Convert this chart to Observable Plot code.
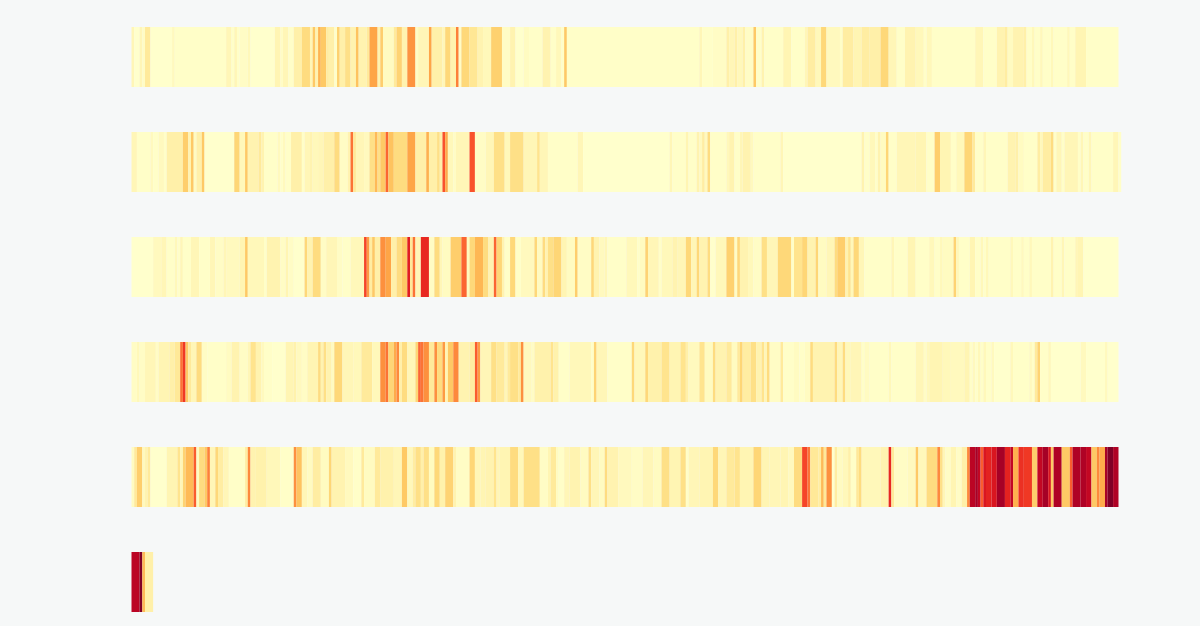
<!DOCTYPE html>
<html>
<head>
<meta charset="utf-8">
<script src="https://cdn.jsdelivr.net/npm/d3@7"></script>
<script src="https://cdn.jsdelivr.net/npm/@observablehq/plot@0.6"></script>
<style>html,body{margin:0;padding:0;background:#f6f8f8;overflow:hidden}svg{display:block}</style>
</head>
<body>
<div id="chart"></div>
<script>
// Each row: [first day of a run, value of that run].
const row1 = [[0,6],[1,0],[3,6],[4,2],[5,14],[7,0],[15,4],[16,1],[35,6],[37,1],[38,6],[39,1],[40,2],[43,5],[44,0],[53,7],[55,2],[56,6],[58,1],[60,10],[63,22],[66,6],[67,30],[68,8],[69,37],[70,30],[72,12],[73,10],[75,1],[76,27],[77,10],[79,20],[81,8],[83,32],[84,8],[87,14],[88,42],[91,8],
[92,28],[93,3],[97,14],[98,26],[100,8],[102,47],[105,2],[106,6],[110,42],[111,10],[115,6],[116,24],[118,8],[120,52],[121,2],[122,24],[125,16],[128,8],[130,5],[133,27],[137,2],[140,8],[142,0],[145,3],[147,1],[152,8],[155,1],[157,5],[159,1],[160,30],[161,1],
[210,6],[211,1],[215,2],[220,10],[221,6],[223,10],[224,5],[226,10],[227,2],[230,30],[231,1],[233,8],[234,1],[241,7],[244,1],[249,6],[250,12],[253,5],[255,24],[257,4],[262,1],[263,12],[267,7],[270,12],[273,10],
[277,24],[280,6],[283,1],[286,8],[290,5],[293,1],[294,5],[296,1],[312,6],[315,1],[320,8],[323,12],[324,3],[326,8],[330,10],[331,1],[333,5],[334,1],[336,5],[337,1],[340,5],[341,1],[346,5],[347,1],[349,7],[353,1]];
const row2 = [[0,6],[2,1],[7,4],[8,1],[10,4],[12,1],[13,10],[19,28],[21,8],[22,30],[23,3],[24,10],[26,30],[27,0],[38,25],[40,5],[42,30],[43,8],[47,14],[48,8],[49,1],[54,4],[55,1],[56,4],[57,1],[59,10],[63,1],[64,6],[66,8],[67,5],[69,6],[71,10],[75,22],[77,2],[80,8],[81,55],[82,15],[83,6],[86,4],[88,20],[90,35],[91,20],
[92,30],[94,58],[95,32],[97,22],[102,42],[105,10],[109,38],[110,10],[113,20],[114,10],[115,62],[116,40],[117,5],[119,2],[120,6],[125,62],[127,2],[131,6],[134,20],[138,5],[140,20],[145,6],[150,18],[151,6],[154,1],[165,6],[167,0],
[199,6],[200,1],[205,7],[206,1],[209,8],[210,4],[211,12],[212,4],[213,22],[214,1],[220,5],[221,8],[223,1],[225,6],[226,8],[229,4],[230,1],[240,6],[241,0],[270,8],[271,1],[273,5],[275,1],[276,8],
[277,3],[279,25],[280,1],[283,6],[290,7],[294,1],[297,28],[299,7],[303,1],[305,5],[308,25],[311,14],[312,1],[315,6],[316,1],[324,8],[327,10],[328,3],[330,1],[335,12],[336,5],[337,12],[340,22],[341,1],[342,6],[344,1],[345,6],[350,1],[351,6],[352,1],[354,6],[355,1],[363,6],[365,1]];
const row3 = [[0,0],[8,4],[11,6],[13,1],[16,5],[17,1],[18,6],[19,1],[22,6],[25,1],[29,6],[31,2],[34,6],[35,4],[40,7],[42,30],[43,5],[49,1],[50,8],[55,2],[57,7],[58,2],[60,0],[64,24],[65,8],[67,22],[70,2],[72,6],[76,2],[78,1],[81,5],[86,65],[87,45],[88,12],[89,30],[90,10],
[92,48],[94,42],[96,10],[98,22],[100,30],[102,75],[103,15],[104,55],[105,6],[107,72],[110,2],[112,22],[114,6],[115,3],[118,28],[122,58],[124,4],[125,24],[127,36],[130,22],[132,8],[134,58],[135,25],[137,8],[138,1],[140,24],[142,1],[144,4],[149,24],[150,3],[152,22],[153,8],[154,20],[156,25],[159,7],[161,3],[164,28],[165,2],[170,24],[171,8],[173,4],[175,6],[176,1],[183,5],
[187,1],[188,3],[190,26],[191,6],[195,1],[196,5],[200,8],[202,6],[205,24],[207,6],[209,24],[210,8],[213,22],[214,0],[216,5],[220,27],[223,2],[224,24],[225,8],[228,5],[230,2],[233,20],[235,6],[239,24],[244,1],[245,18],[248,25],[250,8],[253,25],[254,3],[257,6],[260,22],[261,28],[264,8],[265,18],[266,5],[267,24],[269,6],[271,1],
[281,6],[282,1],[287,7],[290,1],[295,5],[297,1],[299,5],[300,3],[304,26],[305,5],[306,1],[310,7],[312,1],[314,5],[315,1],[316,5],[317,1],[325,5],[326,1],[329,4],[330,1],[332,5],[333,1],[340,8],[341,1],[344,6],[345,1],[349,6],[350,7],[352,0]];
const row4 = [[0,2],[2,5],[3,2],[5,6],[9,2],[10,7],[14,10],[16,15],[18,55],[19,68],[20,30],[21,14],[22,6],[24,22],[26,2],[28,1],[35,3],[37,8],[40,2],[43,6],[44,18],[46,8],[48,4],[49,1],[52,0],[57,7],[60,9],[61,4],[63,2],[65,7],[69,22],[70,8],[71,20],[72,8],[74,3],[75,24],[78,6],[82,5],[85,14],[89,5],
[92,48],[94,55],[95,25],[97,40],[98,50],[99,10],[100,22],[102,6],[105,25],[106,58],[107,55],[108,48],[110,14],[112,48],[113,22],[115,45],[116,7],[117,30],[119,50],[121,8],[125,12],[127,60],[128,45],[129,6],[133,20],[135,14],[138,6],[139,14],[140,20],[143,14],[144,48],[145,4],[148,2],[149,9],[155,18],[156,9],[158,1],[162,5],[170,1],[171,26],[172,6],[176,1],
[185,24],[186,5],[190,24],[191,9],[196,18],[199,7],[203,18],[205,10],[206,4],[210,18],[212,3],[215,22],[216,8],[220,14],[222,3],[224,14],[225,25],[226,12],[229,20],[231,8],[233,18],[234,6],[235,22],[236,2],[240,14],[241,1],[245,3],[247,1],[249,3],[251,22],[252,8],[260,22],[261,6],[263,22],[264,5],[266,6],[270,1],[271,3],[273,1],
[280,5],[281,1],[290,6],[293,2],[294,5],[295,7],[300,5],[303,4],[308,7],[310,1],[311,4],[312,1],[313,5],[314,1],[315,5],[316,1],[318,4],[319,0],[325,5],[326,1],[332,4],[333,1],[334,14],[335,26],[336,1],[339,5],[340,0],[351,4],[353,0],[360,4],[361,0]];
const row5 = [[0,3],[1,14],[2,28],[4,4],[5,8],[6,14],[7,0],[13,7],[17,18],[18,6],[19,26],[20,35],[23,60],[24,3],[25,22],[27,30],[28,52],[29,6],[31,24],[32,12],[34,6],[36,1],[42,12],[43,50],[44,8],[46,9],[50,5],[55,1],[60,48],[61,32],[63,6],[65,3],[67,12],[70,3],[73,25],[74,8],[79,4],[82,1],[85,14],[86,3],[90,14],
[92,9],[97,6],[100,30],[102,5],[104,12],[105,20],[107,10],[108,20],[110,3],[112,24],[114,9],[116,26],[119,8],[120,2],[125,25],[127,6],[129,7],[131,8],[134,18],[135,6],[136,7],[140,22],[143,5],[145,20],[151,2],[154,7],[155,14],[157,3],[158,1],[160,6],[162,8],[166,3],[169,20],[170,6],[173,3],[175,22],[176,8],[180,4],
[185,2],[189,6],[193,3],[196,20],[199,7],[203,20],[205,1],[206,6],[210,7],[215,24],[217,6],[220,14],[223,18],[225,7],[230,25],[233,7],[236,6],[240,7],[243,4],[245,22],[248,65],[250,55],[251,15],[254,12],[255,35],[256,15],[257,48],[259,0],[260,12],[261,3],[263,5],[265,10],[266,1],[268,15],[269,22],[270,5],
[277,8],[280,72],[281,14],[282,2],[287,4],[290,30],[291,5],[294,22],[298,50],[299,20],[300,6],[301,2],[303,7],[305,2],[307,10],[309,50],[310,87],[312,92],[313,85],[314,60],[315,78],[316,74],[318,78],[320,92],[323,74],[325,85],[326,38],[328,70],[330,68],[333,28],[335,85],[337,92],[339,78],[340,30],[341,90],[344,30],[347,60],[348,90],[351,90],[353,85],[355,30],[357,50],[358,40],[360,92],[361,100],[363,90]];
const row6 = [[0,87],[3,100],[4,35],[5,10]];

const rows = [row1, row2, row3, row4, row5, row6];
const rowEnds = [365, 366, 365, 365, 365, 8];

const cells = rows.flatMap((runs, r) => runs.map(([start, value], i) => ({
  row: r,
  start,
  end: i + 1 < runs.length ? runs[i + 1][0] : rowEnds[r],
  value
})));

const chart = Plot.plot({
  width: 1200,
  height: 626,
  margin: 0,
  style: {background: "#f6f8f8"},
  x: {axis: null, domain: [0, 365], range: [131.5, 1118.5]},
  y: {axis: null, domain: [0, 1, 2, 3, 4, 5], range: [27, 612], paddingInner: 45 / 105, paddingOuter: 0},
  color: {type: "linear", scheme: "YlOrRd", domain: [0, 100]},
  marks: [
    Plot.barX(cells, {x1: "start", x2: "end", y: "row", fill: "value"})
  ]
});
document.getElementById("chart").append(chart);
</script>
</body>
</html>
